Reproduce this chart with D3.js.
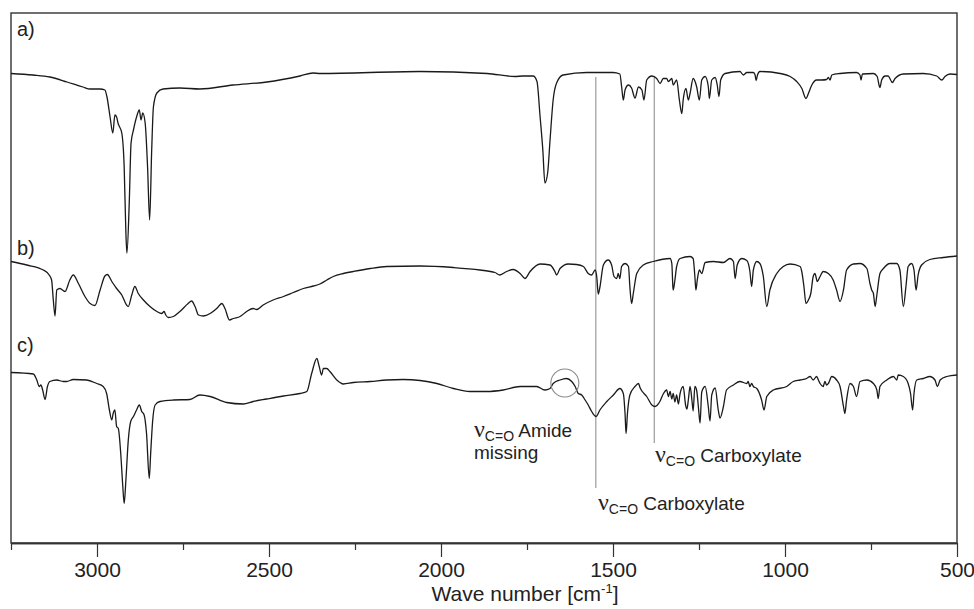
<!DOCTYPE html>
<html>
<head>
<meta charset="utf-8">
<style>
  body { margin: 0; background: #fff; }
  svg text { font-family: "Liberation Sans", Arial, sans-serif; fill: #222; }
</style>
</head>
<body>
<svg id="chart" width="974" height="609"></svg>

<script src="https://d3js.org/d3.v7.min.js"></script>
<script>
// IR spectra, [wave number cm-1, transmittance (a.u., traces offset)]
var traceA = [
  [3250,93.9],[3186,93.6],[3137,93.2],[3087,92.2],[3041,91.2],[3020,90.8],[2991,90.8],[2977,90.6],
  [2971,89.2],[2962,85.2],[2954,82.0],[2948,85.6],[2943,85.2],[2939,84.0],[2928,82.0],[2921,75.2],
  [2916,62.0],[2913,58.0],[2906,68.6],[2901,80.0],[2894,82.6],[2885,85.2],[2877,86.6],[2872,84.6],
  [2867,86.0],[2860,84.0],[2853,75.2],[2847,64.6],[2841,78.6],[2836,87.2],[2826,90.0],[2808,90.8],
  [2759,91.0],[2701,90.8],[2605,91.6],[2506,92.2],[2410,93.4],[2372,94.0],[2352,93.9],[2061,94.3],
  [1866,93.9],[1785,93.3],[1762,93.4],[1732,93.4],[1721,92.3],[1712,85.3],[1704,78.6],[1698,72.0],
  [1690,74.0],[1683,80.6],[1674,88.6],[1664,92.0],[1645,93.6],[1576,94.1],[1500,94.1],[1480,93.8],
  [1475,91.3],[1470,88.6],[1465,90.6],[1455,91.6],[1446,91.0],[1436,89.0],[1426,91.2],[1416,90.6],
  [1410,88.6],[1402,92.6],[1387,93.4],[1373,92.9],[1363,91.9],[1354,92.9],[1344,92.9],[1339,92.3],
  [1329,92.9],[1325,91.6],[1315,92.6],[1307,88.6],[1300,85.9],[1296,88.6],[1288,90.9],[1281,88.6],
  [1276,89.9],[1267,92.9],[1257,91.3],[1249,88.6],[1242,92.6],[1232,93.3],[1223,91.3],[1220,88.9],
  [1213,92.6],[1203,93.1],[1197,91.6],[1192,89.3],[1187,92.6],[1174,93.9],[1131,94.3],[1121,93.6],
  [1111,94.1],[1092,94.1],[1087,93.6],[1084,92.5],[1080,93.6],[1073,94.3],[1014,93.9],[985,93.3],
  [966,92.3],[951,90.9],[939,88.9],[932,89.9],[922,91.6],[908,92.6],[893,92.6],[879,92.7],
  [874,93.1],[869,92.6],[864,93.6],[840,93.9],[792,94.1],[782,93.6],[779,92.6],[775,93.8],
  [743,93.9],[732,93.3],[726,91.4],[724,91.1],[719,92.6],[709,93.4],[700,93.4],[693,92.6],
  [688,92.1],[680,92.9],[656,93.8],[598,93.9],[559,93.4],[544,92.6],[535,93.3],[520,93.8],[500,93.7]
];

var traceB = [
  [3250,56.3],[3204,55.6],[3156,54.6],[3139,53.6],[3132,52.6],[3127,48.6],[3122,45.4],[3117,50.6],
  [3108,50.9],[3093,50.3],[3079,52.6],[3069,53.6],[3054,51.9],[3035,49.3],[3020,47.9],[3006,47.5],
  [2991,50.6],[2977,53.4],[2970,53.7],[2957,52.3],[2943,50.9],[2928,49.6],[2914,47.6],[2909,47.3],
  [2899,49.6],[2890,51.3],[2880,49.9],[2865,48.6],[2846,47.3],[2826,46.3],[2812,45.9],[2805,46.3],
  [2800,45.6],[2793,45.1],[2778,45.3],[2759,46.3],[2735,47.9],[2725,48.4],[2715,47.3],[2705,45.6],
  [2691,45.4],[2671,45.9],[2652,46.9],[2637,47.9],[2628,46.9],[2615,44.6],[2604,44.9],[2584,45.3],
  [2565,46.3],[2546,46.9],[2536,46.7],[2517,47.6],[2488,48.6],[2458,49.3],[2429,50.1],[2400,50.9],
  [2371,51.4],[2352,51.8],[2332,52.6],[2313,53.3],[2284,53.9],[2255,54.3],[2206,54.9],[2158,55.3],
  [2061,55.4],[1964,55.1],[1887,54.6],[1843,54.1],[1829,53.6],[1809,54.3],[1790,54.7],[1770,53.9],
  [1756,52.9],[1741,54.3],[1712,55.8],[1683,55.6],[1669,54.3],[1664,53.6],[1654,54.9],[1630,55.8],
  [1606,55.7],[1586,55.3],[1572,53.9],[1562,53.6],[1552,54.6],[1547,53.1],[1543,49.8],[1538,51.2],
  [1528,55.6],[1514,56.6],[1504,55.6],[1497,53.3],[1489,52.9],[1485,53.9],[1480,52.9],[1475,55.3],
  [1465,55.9],[1455,55.3],[1451,51.3],[1446,47.9],[1441,49.9],[1431,53.9],[1412,55.6],[1383,56.3],
  [1334,56.9],[1329,55.9],[1326,51.3],[1325,50.6],[1320,52.6],[1315,55.3],[1305,56.9],[1276,57.3],
  [1267,56.9],[1262,53.3],[1259,50.6],[1255,52.6],[1249,54.6],[1242,53.9],[1232,56.1],[1208,56.3],
  [1179,56.1],[1160,56.9],[1150,56.3],[1145,52.9],[1139,55.6],[1126,56.9],[1111,56.5],[1102,54.3],
  [1097,51.3],[1092,54.6],[1082,56.3],[1073,55.9],[1063,53.3],[1053,47.3],[1044,50.6],[1024,53.9],
  [1005,55.3],[985,55.8],[956,55.3],[951,54.2],[945,51.3],[939,47.9],[932,48.6],[925,49.9],
  [918,53.3],[913,53.9],[906,52.3],[898,53.3],[889,54.3],[874,53.9],[860,52.6],[850,50.6],
  [840,48.3],[830,50.6],[821,54.6],[801,55.8],[782,55.9],[762,54.9],[753,51.9],[748,50.6],
  [743,49.9],[738,47.3],[733,49.6],[724,53.9],[714,54.9],[695,55.9],[675,55.9],[666,54.6],
  [656,47.3],[648,51.6],[642,55.3],[632,55.9],[625,54.6],[619,50.6],[613,53.6],[603,55.6],
  [579,56.7],[540,57.1],[500,57.4]
];

var traceC = [
  [3250,34.1],[3185,33.8],[3175,32.6],[3168,31.3],[3163,31.6],[3158,30.6],[3151,28.7],[3144,31.3],
  [3137,32.3],[3117,32.6],[3098,32.3],[3088,32.3],[3069,32.7],[3030,32.6],[3001,31.9],[2982,31.3],
  [2972,29.9],[2964,26.6],[2957,24.6],[2953,25.9],[2948,26.6],[2943,23.3],[2938,22.9],[2931,17.9],
  [2925,11.3],[2921,7.9],[2916,12.6],[2909,20.6],[2902,24.3],[2894,25.3],[2885,26.6],[2877,27.6],
  [2870,26.3],[2863,25.6],[2856,21.9],[2848,12.9],[2844,17.9],[2838,24.6],[2831,27.6],[2817,28.3],
  [2778,28.6],[2730,28.7],[2701,29.6],[2671,29.3],[2623,28.1],[2575,27.8],[2546,28.3],[2507,28.8],
  [2458,29.4],[2410,29.9],[2390,30.3],[2376,33.9],[2361,36.9],[2354,35.3],[2347,33.6],[2342,34.9],
  [2332,34.9],[2323,34.3],[2303,32.6],[2284,31.8],[2255,32.1],[2206,32.3],[2158,32.6],[2110,32.7],
  [2061,32.5],[2012,31.9],[1964,30.9],[1916,30.3],[1867,30.3],[1819,30.6],[1770,31.3],[1722,31.3],
  [1698,30.6],[1683,30.9],[1674,31.9],[1654,32.6],[1635,32.9],[1620,32.3],[1610,31.3],[1601,29.9],
  [1591,29.6],[1581,28.6],[1572,27.6],[1562,26.3],[1549,25.3],[1538,26.6],[1518,28.3],[1499,29.6],
  [1480,30.9],[1470,29.9],[1465,25.9],[1462,21.9],[1458,25.9],[1451,29.6],[1436,31.3],[1426,31.9],
  [1421,31.0],[1402,29.3],[1387,27.6],[1378,27.3],[1363,28.4],[1354,29.8],[1344,30.6],[1339,29.3],
  [1334,30.3],[1329,28.8],[1325,29.9],[1320,28.2],[1315,29.6],[1310,27.8],[1305,29.9],[1296,31.3],
  [1289,27.6],[1285,26.8],[1281,28.6],[1276,31.3],[1270,28.2],[1267,26.4],[1262,31.3],[1257,30.6],
  [1251,26.6],[1247,24.0],[1242,30.2],[1232,31.3],[1223,27.3],[1218,24.4],[1213,29.6],[1203,31.0],
  [1194,26.6],[1189,25.0],[1179,27.3],[1170,30.6],[1150,31.6],[1131,32.3],[1111,31.9],[1107,32.3],
  [1102,31.3],[1097,31.9],[1092,31.3],[1082,30.9],[1068,28.6],[1061,26.6],[1053,29.3],[1034,30.6],
  [995,31.3],[976,32.3],[956,32.6],[937,32.9],[927,33.3],[918,32.6],[908,33.3],[903,32.6],
  [898,31.9],[889,31.3],[884,32.3],[879,31.6],[874,31.9],[864,33.3],[850,32.6],[840,31.3],
  [830,27.3],[826,25.9],[821,28.6],[811,31.9],[801,31.3],[792,29.3],[782,32.3],[762,32.6],
  [743,31.9],[733,30.6],[729,28.9],[724,31.3],[704,32.6],[685,33.3],[675,32.6],[671,33.6],
  [656,33.3],[642,31.9],[635,29.9],[629,26.6],[625,29.9],[617,32.6],[598,32.9],[579,33.3],
  [564,32.6],[557,31.3],[549,32.6],[530,33.3],[500,33.6]
];

var traces = [traceA, traceB, traceC];
var traceNames = ['a)', 'b)', 'c)'];

var majorTicks = [3000, 2500, 2000, 1500, 1000, 500];
var minorTicks = [3250, 2750, 2250, 1750, 1250, 750];

// carboxylate bands (cm-1) with the lower end of their marker line (a.u.)
var bandWaves = [1550, 1380];
var bandEnds = [11, 20];
var bandTop = 93.2;
var amideWave = 1640, amideLevel = 32;

var svg = d3.select('#chart');
var plotL = 11, plotR = 957, plotT = 13, plotB = 543;

var x = d3.scaleLinear().domain([3250, 500]).range([plotL, plotR]);
var y = d3.scaleLinear().domain([0, 106]).range([plotB, plotT]);

// frame
svg.append('rect')
  .attr('x', plotL).attr('y', plotT)
  .attr('width', plotR - plotL).attr('height', plotB - plotT)
  .attr('fill', 'none').attr('stroke', '#333').attr('stroke-width', 1.4);

// marker lines
svg.selectAll('line.band')
  .data(bandWaves)
  .enter().append('line')
  .attr('class', 'band')
  .attr('x1', d => x(d)).attr('x2', d => x(d))
  .attr('y1', y(bandTop))
  .attr('y2', (d, i) => y(bandEnds[i]))
  .attr('stroke', '#9a9a9a').attr('stroke-width', 1.2);

// spectra
var line = d3.line()
  .x(d => x(d[0]))
  .y(d => y(d[1]))
  .curve(d3.curveMonotoneX);

svg.selectAll('path.trace')
  .data(traces)
  .enter().append('path')
  .attr('class', 'trace')
  .attr('d', line)
  .attr('fill', 'none')
  .attr('stroke', '#1a1a1a')
  .attr('stroke-width', 1.3)
  .attr('stroke-linejoin', 'round');

// circle on the missing amide band
svg.append('circle')
  .attr('cx', x(amideWave)).attr('cy', y(amideLevel))
  .attr('r', 14)
  .attr('fill', 'none').attr('stroke', '#8a8a8a').attr('stroke-width', 1.1);

// panel labels
var labelY = [36, 255, 352];
svg.selectAll('text.panel')
  .data(traceNames)
  .enter().append('text')
  .attr('class', 'panel')
  .attr('x', 17)
  .attr('y', (d, i) => labelY[i])
  .attr('font-size', 20)
  .text(d => d);

// axis
var axis = svg.append('g').attr('transform', 'translate(0,' + plotB + ')');
axis.call(d3.axisBottom(x).tickValues(majorTicks).tickSize(14).tickSizeOuter(0).tickPadding(5).tickFormat(d3.format('d')));
axis.append('g').call(d3.axisBottom(x).tickValues(minorTicks).tickSize(7).tickSizeOuter(0).tickFormat(''));
axis.selectAll('.domain').attr('stroke', '#333').attr('stroke-width', 1.4);
axis.selectAll('line').attr('stroke', '#333').attr('stroke-width', 1.2);
axis.selectAll('text')
  .attr('font-size', 21)
  .attr('font-family', '"Liberation Sans", Arial, sans-serif')
  .attr('fill', '#222');

var title = svg.append('text')
  .attr('x', 525).attr('y', 601)
  .attr('text-anchor', 'middle')
  .attr('font-size', 21);
title.append('tspan').text('Wave number [cm');
title.append('tspan').attr('font-size', 13).attr('dy', -8).text('-1');
title.append('tspan').attr('dy', 8).text(']');

// annotations: nu(C=O) labels
function nuLabel(xp, yp, rest) {
  var t = svg.append('text').attr('x', xp).attr('y', yp).attr('font-size', 19);
  t.append('tspan').attr('font-family', '"Liberation Serif", "Times New Roman", serif').attr('font-size', 24).text('ν');
  t.append('tspan').attr('font-size', 14).attr('dy', 4).text('C=O');
  t.append('tspan').attr('dy', -4).text(' ' + rest);
  return t;
}
nuLabel(474, 437, 'Amide');
svg.append('text').attr('x', 474).attr('y', 459).attr('font-size', 19).text('missing');
nuLabel(655, 462, 'Carboxylate');
nuLabel(598, 510, 'Carboxylate');
</script>
</body>
</html>
